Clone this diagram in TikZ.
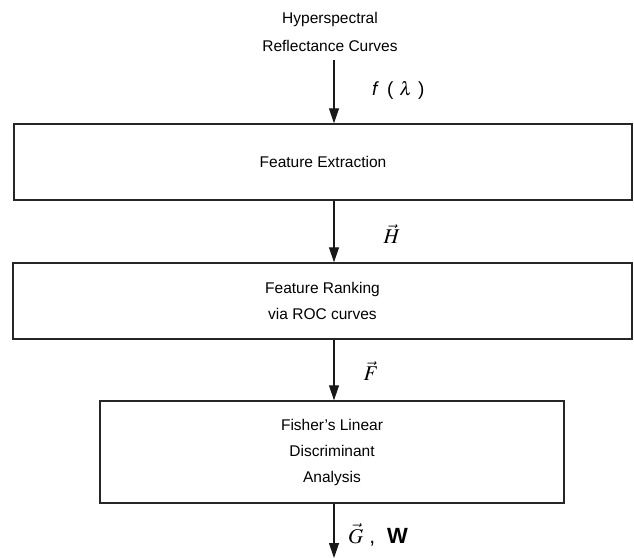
\documentclass[tikz,border=0pt]{standalone}
\usepackage{mathptmx}
\usepackage{fontspec}
\setmainfont{Liberation Sans}
\usetikzlibrary{arrows.meta}
\begin{document}
\begin{tikzpicture}[x=1bp,y=-1bp,
  stage/.style={draw=black!85, line width=1.4bp, inner sep=0pt,
    align=center, font=\fontsize{15.5bp}{26bp}\selectfont},
  caption/.style={align=center, inner sep=0pt, font=\fontsize{15.5bp}{28bp}\selectfont},
  flow/.style={line width=1.2bp, draw=black!90,
    -{Triangle[length=15bp,width=10bp]}},
  sym/.style={inner sep=0pt, font=\fontsize{21bp}{24bp}\selectfont}]
  \useasboundingbox (0,0) rectangle (634,558);
  \coordinate (ax) at (334,0);
  \coordinate (end) at (334,558);

  % input data
  \node[caption] (src) at (330,32) {Hyperspectral\\Reflectance Curves};

  % processing stages
  \node[stage, minimum width=618bp, minimum height=76bp] (fe) at (323,162)
    {Feature Extraction};
  \node[stage, minimum width=619bp, minimum height=76bp] (fr) at (322.5,301)
    {Feature Ranking\\via ROC curves};
  \node[stage, minimum width=464bp, minimum height=102bp] (fld) at (332,452)
    {Fisher's Linear\\Discriminant\\Analysis};

  % data flow
  \draw[flow] (ax |- 0,60) -- (fe.north -| ax);
  \draw[flow] (fe.south -| ax) -- (fr.north -| ax);
  \draw[flow] (fr.south -| ax) -- (fld.north -| ax);
  \draw[flow] (fld.south -| ax) -- (end);

  % signal labels
  \node[sym, anchor=west, font=\fontsize{19bp}{22bp}\selectfont] (lf) at (372,90)
    {\textit{f}\hspace{8bp}(\hspace{6bp}$\lambda$\hspace{6bp})};
  \node[sym] (lh) at (392,234) {$\vec{H}$};
  \node[sym] (lF) at (371,371) {$\vec{F}$};
  \node[sym, anchor=west] (lg) at (348,535)
    {$\vec{G}$\hspace{6bp},\hspace{12bp}{\fontsize{22bp}{24bp}\selectfont\textbf{W}}};
\end{tikzpicture}
\end{document}
